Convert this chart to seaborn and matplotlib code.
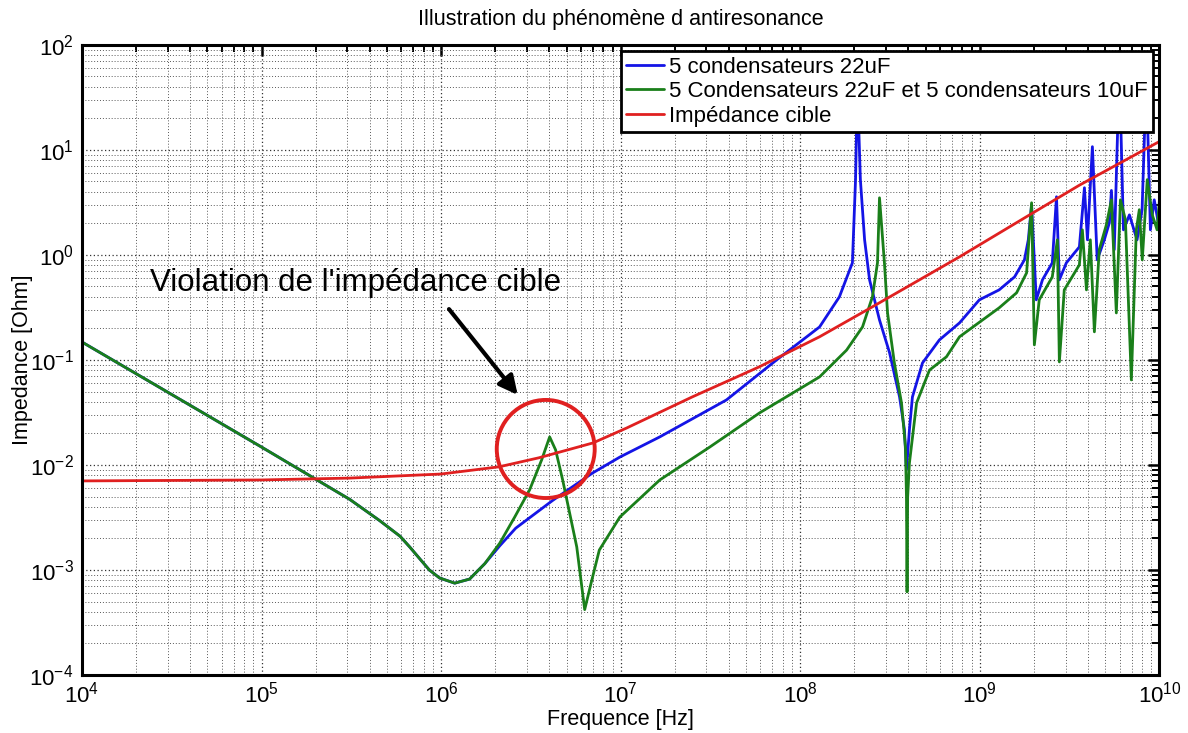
import numpy as np
import pandas as pd
import matplotlib
matplotlib.use("Agg")
import matplotlib.pyplot as plt
import seaborn as sns
from matplotlib.patches import Ellipse

# ==========================
# Data
# ==========================

freq_blue = [1e4, 1e5, 3.1e5, 4.55e5, 5.9e5, 6.7e5, 7.6e5, 8.6e5, 9.8e5, 1.19e6, 1.44e6,
             1.75e6, 2.12e6, 2.6e6,
             4.18e6, 6.98e6, 9.9e6, 1.65e7, 3.88e7, 7.38e7, 1.28e8, 1.65e8, 1.95e8,
             2.03e8, 2.08e8, 2.16e8, 2.28e8, 2.43e8, 2.76e8, 3.14e8, 3.57e8, 3.8e8,
             3.9e8, 4.05e8, 4.21e8, 4.79e8, 5.95e8, 7.7e8, 9.93e8, 1.28e9, 1.56e9,
             1.77e9, 1.86e9, 1.94e9, 2.06e9, 2.23e9, 2.53e9, 2.67e9, 2.77e9, 3.03e9,
             3.58e9, 3.82e9, 3.97e9, 4.23e9, 4.5e9, 4.93e9, 5.26e9, 5.4e9, 5.6e9,
             5.98e9, 6.3e9, 6.8e9, 7.5e9, 8.0e9, 8.45e9, 8.9e9, 9.35e9, 1e10]
z_blue = [0.148, 0.0148, 4.7e-3, 2.95e-3, 2.1e-3, 1.65e-3, 1.28e-3, 1.0e-3, 8.4e-4, 7.5e-4, 8.2e-4,
          1.15e-3, 1.7e-3, 2.5e-3,
          4.6e-3, 8.4e-3, 0.0119, 0.0185, 0.0416, 0.1, 0.206, 0.398, 0.84,
          5.2, 40.0, 5.2, 1.39, 0.578, 0.24, 0.117, 0.0444, 0.0216,
          0.009, 0.0216, 0.0444, 0.0936, 0.155, 0.225, 0.373, 0.464, 0.617,
          0.896, 1.39, 3.0, 0.373, 0.578, 0.84, 3.57, 0.578, 0.84,
          1.19, 4.35, 1.39, 10.7, 0.896, 1.39, 2.02, 4.1, 1.12,
          60.0, 1.73, 2.4, 1.39, 2.69, 50.0, 1.73, 3.34, 1.73]

freq_green = [1e4, 1e5, 3.1e5, 4.55e5, 5.9e5, 6.7e5, 7.6e5, 8.6e5, 9.8e5, 1.19e6, 1.44e6,
              1.75e6, 2.12e6,
              2.57e6, 3.11e6, 3.63e6, 4.02e6, 4.34e6, 4.75e6, 5.69e6, 6.3e6, 6.9e6,
              7.6e6, 9.9e6, 1.65e7, 3.13e7, 5.93e7, 1.28e8, 1.81e8, 2.22e8, 2.52e8,
              2.69e8, 2.76e8, 2.94e8, 3.06e8, 3.34e8, 3.66e8, 3.85e8, 3.9e8, 3.93e8,
              3.96e8, 4.05e8, 4.44e8, 5.24e8, 6.51e8, 7.7e8, 1.28e9, 1.6e9, 1.82e9,
              1.94e9, 2.01e9, 2.14e9, 2.53e9, 2.7e9, 2.77e9, 2.95e9, 3.58e9, 3.72e9,
              3.92e9, 4.12e9, 4.34e9, 4.62e9, 5.06e9, 5.4e9, 5.75e9, 6.06e9, 6.46e9,
              6.97e9, 7.43e9, 7.72e9, 8.02e9, 8.55e9, 9.12e9, 9.7e9, 1e10]
z_green = [0.148, 0.0148, 4.7e-3, 2.95e-3, 2.1e-3, 1.65e-3, 1.28e-3, 1.0e-3, 8.4e-4, 7.5e-4, 8.2e-4,
           1.15e-3, 1.8e-3,
           3.2e-3, 5.8e-3, 0.0112, 0.0185, 0.0139, 7.2e-3, 1.66e-3, 4.2e-4, 8.0e-4,
           1.55e-3, 3.2e-3, 7.2e-3, 0.0148, 0.0313, 0.0689, 0.124, 0.206, 0.398,
           0.84, 3.49, 0.84, 0.28, 0.0936, 0.0389, 0.0148, 4.96e-3, 6.2e-4,
           4.96e-3, 0.0104, 0.0389, 0.08, 0.107, 0.166, 0.313, 0.435, 0.674,
           3.13, 0.139, 0.373, 0.617, 1.39, 0.0957, 0.464, 0.803, 1.73,
           0.464, 1.39, 0.185, 1.12, 1.93, 3.34, 0.28, 3.34, 2.16,
           0.0645, 1.73, 2.69, 0.896, 5.2, 2.4, 1.73, 3.34]

freq_red = [1e4, 1e5, 3.1e5, 1e6, 2.1e6, 3.5e6, 7.0e6, 1.08e7, 2.5e7, 5.9e7,
            1.28e8, 2.52e8, 7.7e8, 1.89e9, 3.58e9, 1e10]
z_red = [0.00705, 0.0072, 0.0075, 0.0082, 0.0096, 0.0117, 0.0162, 0.0225, 0.0444, 0.0858,
         0.166, 0.32, 0.957, 2.4, 4.6, 12.0]

labels = [
    "5 condensateurs 22uF",
    "5 Condensateurs 22uF et 5 condensateurs 10uF",
    "Impédance cible",
]

# ==========================
# Style
# ==========================

sns.set_style("white")
plt.rcParams["font.family"] = ["Liberation Sans", "DejaVu Sans"]
plt.rcParams["mathtext.fontset"] = "custom"
plt.rcParams["mathtext.rm"] = "Liberation Sans"
plt.rcParams["text.color"] = "black"
plt.rcParams["axes.labelcolor"] = "black"
plt.rcParams["xtick.color"] = "black"
plt.rcParams["ytick.color"] = "black"

fig = plt.figure(figsize=(11.88, 7.33), dpi=100)
ax = fig.add_axes([0.069, 0.079, 0.907, 0.860])

df = pd.concat([
    pd.DataFrame({"f": freq_blue, "z": z_blue, "serie": labels[0]}),
    pd.DataFrame({"f": freq_green, "z": z_green, "serie": labels[1]}),
    pd.DataFrame({"f": freq_red, "z": z_red, "serie": labels[2]}),
])

sns.lineplot(
    data=df,
    x="f",
    y="z",
    hue="serie",
    palette=["#1414e6", "#1a7f1a", "#e02020"],
    estimator=None,
    sort=False,
    linewidth=2.0,
    ax=ax,
)

ax.set_xscale("log")
ax.set_yscale("log")
ax.set_xlim(1e4, 1e10)
ax.set_ylim(1e-4, 1e2)

ax.grid(which="major", linestyle=(0, (1, 2)), color="0.2", linewidth=0.9)
ax.grid(which="minor", linestyle=(0, (1, 2)), color="0.35", linewidth=0.7)

ax.tick_params(which="both", direction="in", top=True, right=True, labelsize=16)
ax.tick_params(which="major", length=8, width=1.8)
ax.tick_params(which="minor", length=5, width=1.4)
ax.tick_params(axis="x", which="major", pad=5)
ax.tick_params(axis="y", which="major", pad=6)
for s in ax.spines.values():
    s.set_linewidth(2.2)
    s.set_color("black")

ax.set_xlabel("Frequence [Hz]", fontsize=15.5, labelpad=1)
ax.set_ylabel("Impedance [Ohm]", fontsize=15.5)
ax.yaxis.set_label_coords(-0.045, 0.5)
ax.set_title("Illustration du phénomène d antiresonance", fontsize=15.5, pad=14)

leg = ax.legend(
    loc="upper right",
    fontsize=16,
    frameon=True,
    fancybox=False,
    framealpha=1,
    edgecolor="black",
    borderaxespad=0.3,
    handlelength=1.7,
    handletextpad=0.2,
    borderpad=0.25,
    labelspacing=0.15,
)
leg.get_frame().set_linewidth(2)
leg.set_zorder(10)

# ==========================
# Annotation
# ==========================

ax.text(0.063, 0.622, "Violation de l'impédance cible", transform=ax.transAxes,
        fontsize=22.5, va="center", ha="left", color="black")

ax.annotate(
    "",
    xy=(0.406, 0.441),
    xytext=(0.339, 0.584),
    xycoords="axes fraction",
    arrowprops=dict(arrowstyle="-|>", color="black", lw=3, mutation_scale=28),
)

ax.add_patch(Ellipse((0.4304, 0.3587), 0.0909, 0.1556, transform=ax.transAxes,
                     fill=False, edgecolor="#e02020", linewidth=2.8, zorder=5))

plt.savefig("out.png", dpi=100)
plt.close()
